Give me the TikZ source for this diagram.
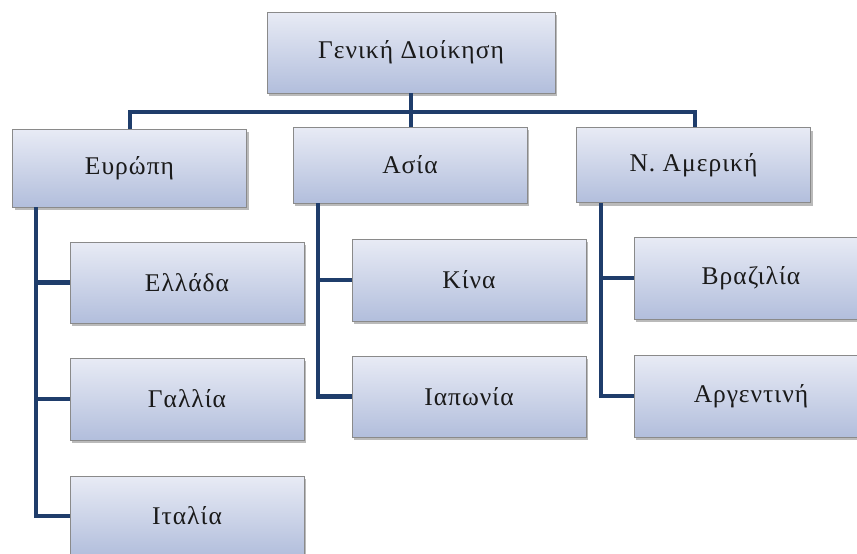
\documentclass[tikz,border=0pt]{standalone}
\usepackage{fontspec}
\setmainfont{Liberation Serif}
\newfontfamily\labelfont[LetterSpace=4]{Liberation Serif}
\usetikzlibrary{shadows}
\definecolor{linknavy}{HTML}{1F3D6B}
\definecolor{boxtop}{HTML}{E8EBF5}
\definecolor{boxbottom}{HTML}{B2BEDC}
\definecolor{boxedge}{HTML}{8A8A8A}
\definecolor{labelink}{HTML}{1A1A1A}
\tikzset{
  unitbox/.style={rectangle, draw=boxedge, line width=0.9pt,
    top color=boxtop, bottom color=boxbottom,
    drop shadow={shadow xshift=2pt, shadow yshift=-3pt, opacity=0.45, fill=black!60},
    text=labelink, font=\labelfont\fontsize{25.5}{29}\selectfont,
    minimum width=234pt, inner sep=0pt},
  link/.style={draw=linknavy, line width=4.3pt, line join=miter}
}
\begin{document}
\begin{tikzpicture}[x=1pt, y=-1pt]
  \useasboundingbox (0,0) rectangle (857,554);
  \clip (0,0) rectangle (857,554);

  % head office
  \node[unitbox, minimum width=288pt, minimum height=81pt] (head) at (411,52.5) {Γενική Διοίκηση};

  % regions
  \node[unitbox, minimum height=78pt] (eu) at (129.5,168) {Ευρώπη};
  \node[unitbox, minimum height=76pt] (as) at (410,165) {Ασία};
  \node[unitbox, minimum height=75pt] (na) at (693.5,165) {Ν. Αμερική};

  % countries
  \node[unitbox, minimum height=81pt] (gr) at (187,282.5) {Ελλάδα};
  \node[unitbox, minimum height=82pt] (fr) at (187,399) {Γαλλία};
  \node[unitbox, minimum height=80pt] (it) at (187,516) {Ιταλία};
  \node[unitbox, minimum height=82pt] (cn) at (469,280) {Κίνα};
  \node[unitbox, minimum height=81pt] (jp) at (469,396.5) {Ιαπωνία};
  \node[unitbox, minimum height=82pt] (br) at (751,278) {Βραζιλία};
  \node[unitbox, minimum height=82pt] (ar) at (751,396) {Αργεντινή};

  % bus between head office and regions
  \coordinate (busL) at (130,112);
  \coordinate (busR) at (695,112);
  \draw[link] (head.south) -- (head.south |- busL);
  \draw[link] (eu.north -| busL) -- (busL) -- (busR) -- (na.north -| busR);
  \draw[link] (as.north -| head.south) -- (head.south |- busL);

  % region to country branches
  \coordinate (euX) at (36,0);
  \coordinate (asX) at (318,0);
  \coordinate (naX) at (601,0);
  \draw[link] (eu.south -| euX) -- (it.west -| euX) -- (it.west);
  \draw[link] (gr.west -| euX) -- (gr.west);
  \draw[link] (fr.west -| euX) -- (fr.west);
  \draw[link] (as.south -| asX) -- (jp.west -| asX) -- (jp.west);
  \draw[link] (cn.west -| asX) -- (cn.west);
  \draw[link] (na.south -| naX) -- (ar.west -| naX) -- (ar.west);
  \draw[link] (br.west -| naX) -- (br.west);
\end{tikzpicture}
\end{document}
